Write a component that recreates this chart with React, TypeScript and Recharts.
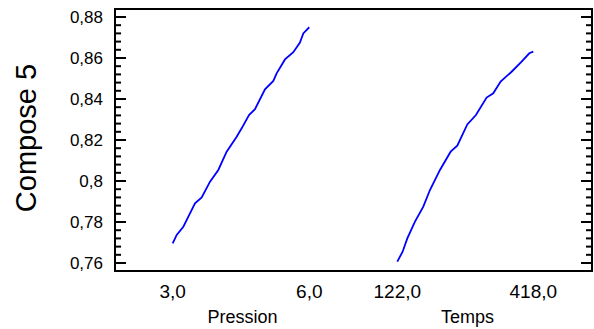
import React from 'react';
import { LineChart, Line, XAxis, YAxis, Label } from 'recharts';

const pressionX = [3.0, 3.088, 3.234, 3.344, 3.49, 3.637, 3.82, 4.002, 4.185, 4.405, 4.515, 4.676, 4.807, 5.027, 5.21, 5.283, 5.466, 5.649, 5.795, 5.868, 6.0];
const pressionY = [0.7696, 0.7737, 0.7777, 0.7826, 0.7891, 0.792, 0.7997, 0.8054, 0.8143, 0.8216, 0.8257, 0.8322, 0.835, 0.8447, 0.8488, 0.8525, 0.8593, 0.8628, 0.8675, 0.872, 0.875];
const tempsX = [122.0, 133.6, 143.8, 160.5, 178.6, 193.1, 214.9, 238.1, 252.6, 274.4, 293.2, 316.4, 330.9, 346.9, 370.8, 392.6, 409.3, 418.0];
const tempsY = [0.7607, 0.7655, 0.772, 0.7802, 0.7875, 0.7956, 0.8054, 0.8143, 0.8172, 0.8276, 0.8322, 0.8407, 0.8428, 0.8485, 0.8533, 0.8582, 0.8623, 0.8631];
const majorTicks = [0.76, 0.78, 0.8, 0.82, 0.84, 0.86, 0.88];
const pressionTicks = [3, 6];
const tempsTicks = [122, 418];
const yLabel = 'Compose 5';
const pressionLabel = 'Pression';
const tempsLabel = 'Temps';

const Y_DOMAIN: [number, number] = [0.7561, 0.8839];
const P_DOMAIN: [number, number] = [1.733, 12.209];
const T_DOMAIN: [number, number] = [-492.4, 545.8];

const FONT = '"Liberation Sans", Arial, sans-serif';

const allYTicks: number[] = [];
for (let i = 0; i <= 30; i++) allYTicks.push(+(0.76 + i * 0.004).toFixed(3));

const pressionData = pressionX.map((x, i) => ({ x, y: pressionY[i] }));
const tempsData = tempsX.map((x, i) => ({ x, y: tempsY[i] }));

const isMajor = (v: number) => majorTicks.some((m) => Math.abs(m - v) < 1e-6);
const fmtY = (v: number) => String(parseFloat(v.toFixed(2))).replace('.', ',');
const fmtX = (v: number) => v.toFixed(1).replace('.', ',');

const LeftTick = (props: any) => {
  const { x, y, payload } = props;
  const v = payload.value;
  const major = isMajor(v);
  return (
    <g>
      <rect x={x} y={y - 1} width={major ? 11 : 6} height={2} fill="#000" />
      {major && (
        <text x={x - 12} y={y} dy="0.35em" textAnchor="end" fontSize={17} fontFamily={FONT} fill="#000">
          {fmtY(v)}
        </text>
      )}
    </g>
  );
};

const RightTick = (props: any) => {
  const { x, y, payload } = props;
  const len = isMajor(payload.value) ? 11 : 6;
  return <rect x={x - len} y={y - 1} width={len} height={2} fill="#000" />;
};

const XTick = (props: any) => {
  const { x, y, payload } = props;
  return (
    <text x={x} y={y} dy="0.71em" textAnchor="middle" fontSize={19} fontFamily={FONT} fill="#000">
      {fmtX(payload.value)}
    </text>
  );
};

const bottomLabel = (text: string, dx: number, dy: number) => (props: any) => {
  const vb = props.viewBox || {};
  return (
    <text x={vb.x + vb.width / 2 + dx} y={vb.y + dy} textAnchor="middle" fontSize={18} fontFamily={FONT} fill="#000">
      {text}
    </text>
  );
};

const leftLabel = (props: any) => {
  const vb = props.viewBox || {};
  const cx = vb.x + 36;
  const cy = vb.y + vb.height / 2 - 2;
  return (
    <text transform={`translate(${cx},${cy}) rotate(-90)`} textAnchor="middle" fontSize={29} fontFamily={FONT} fill="#000">
      {yLabel}
    </text>
  );
};

// chart layout (plot area: x 115..592, y 9..271)
const CHART_W = 594;
const CHART_H = 329;
const MARGIN = { top: 8, right: 0, bottom: 56, left: 0 };
const LEFT_W = 115;
const RIGHT_W = 2;

export default function App() {
  const plotLeft = MARGIN.left + LEFT_W;
  const plotTop = MARGIN.top + 1;
  const plotW = CHART_W - plotLeft - MARGIN.right - RIGHT_W;
  const plotH = CHART_H - plotTop - MARGIN.bottom - 2;
  return (
    <div style={{ position: 'absolute', left: 0, top: 0, width: CHART_W, height: CHART_H, overflow: 'hidden', background: '#fff' }}>
      <LineChart width={CHART_W} height={CHART_H} margin={MARGIN}>
        <XAxis
          xAxisId="p"
          dataKey="x"
          type="number"
          domain={P_DOMAIN}
          allowDataOverflow
          ticks={pressionTicks}
          tick={<XTick />}
          tickLine={false}
          tickSize={0}
          tickMargin={14}
          height={1}
          interval={0}
          axisLine={false}
        >
          <Label content={bottomLabel(pressionLabel, -111, 52)} />
        </XAxis>
        <XAxis
          xAxisId="t"
          dataKey="x"
          type="number"
          domain={T_DOMAIN}
          allowDataOverflow
          ticks={tempsTicks}
          tick={<XTick />}
          tickLine={false}
          tickSize={0}
          tickMargin={13}
          height={1}
          interval={0}
          axisLine={false}
        >
          <Label content={bottomLabel(tempsLabel, 114, 51)} />
        </XAxis>
        <XAxis xAxisId="top" orientation="top" type="number" domain={[0, 1]} tick={false} tickLine={false} height={1} axisLine={false} />
        <YAxis
          yAxisId="left"
          type="number"
          domain={Y_DOMAIN}
          allowDataOverflow
          ticks={allYTicks}
          interval={0}
          tick={<LeftTick />}
          tickLine={false}
          tickSize={0}
          tickMargin={0}
          width={LEFT_W}
          axisLine={false}
        >
          <Label content={leftLabel} />
        </YAxis>
        <YAxis
          yAxisId="right"
          orientation="right"
          type="number"
          domain={Y_DOMAIN}
          allowDataOverflow
          ticks={allYTicks}
          interval={0}
          tick={<RightTick />}
          tickLine={false}
          tickSize={0}
          tickMargin={0}
          width={RIGHT_W}
          axisLine={false}
        />
        <Line
          data={pressionData}
          xAxisId="p"
          yAxisId="left"
          dataKey="y"
          type="linear"
          stroke="#0000ff"
          strokeWidth={1.8}
          dot={false}
          isAnimationActive={false}
        />
        <Line
          data={tempsData}
          xAxisId="t"
          yAxisId="left"
          dataKey="y"
          type="linear"
          stroke="#0000ff"
          strokeWidth={1.8}
          dot={false}
          isAnimationActive={false}
        />
      </LineChart>
      <div
        style={{
          position: 'absolute',
          left: plotLeft - 1,
          top: plotTop - 1,
          width: plotW + 2,
          height: plotH + 2,
          border: '2px solid #000',
          boxSizing: 'border-box',
          pointerEvents: 'none',
        }}
      />
    </div>
  );
}
